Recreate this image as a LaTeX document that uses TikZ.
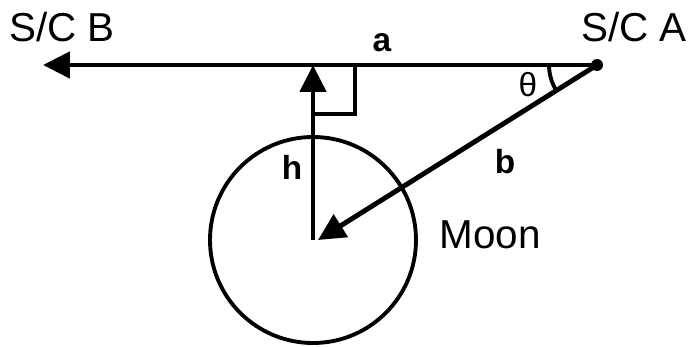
\documentclass[tikz,border=0pt]{standalone}
\usepackage{fontspec}
\setmainfont{Liberation Sans}
\usepackage{tikz}
\usetikzlibrary{angles,quotes,arrows.meta,calc}

\tikzset{
  bigtxt/.style={font=\fontsize{23}{23}\selectfont},
  lbltxt/.style={font=\fontsize{19}{19}\selectfont\bfseries},
  vec/.style={line width=2.8pt,-{Triangle[length=0.54cm,width=0.52cm]}},
  thinline/.style={line width=2.2pt}
}

\begin{document}
\begin{tikzpicture}[x=0.02cm,y=0.02cm]
    \useasboundingbox (0,0) rectangle (689,-347);
    % Points (pixel grid of the sketch, y pointing down as negative)
    \coordinate (A) at (597,-65);     % spacecraft A
    \coordinate (B) at (43,-65);      % arrow tip towards spacecraft B
    \coordinate (O) at (313,-240);    % centre of the Moon
    \coordinate (F) at (313,-65);     % foot of h on the line a
    \coordinate (Bt) at (318,-240);   % tip of b
    % Moon
    \draw[thinline] (O) circle (103);
    % Right-angle mark at the foot
    \draw[thinline] (F) -| ($(F)+(42,-49)$) -- ($(F)+(0,-49)$);
    % Vectors
    \draw[vec] (A) -- (B);
    \draw[vec] (O) -- (F);
    \draw[vec] (A) -- (Bt);
    \fill (A) circle (6);
    % Angle between a and b
    \pic[draw,thinline,angle radius=0.96cm,angle eccentricity=1.5,
         "θ",font=\fontsize{19}{19}\selectfont] {angle = B--A--Bt};
    % Labels
    \node[bigtxt] (scb) at (62,-27) {S/C B};
    \node[bigtxt] (sca) at (634,-27) {S/C A};
    \node[bigtxt] (moon) at (490,-235) {Moon};
    \node[lbltxt] (la) at (382,-43) {a};
    \node[lbltxt] (lb) at (505,-162) {b};
    \node[lbltxt] (lh) at (292,-167) {h};
\end{tikzpicture}
\end{document}
